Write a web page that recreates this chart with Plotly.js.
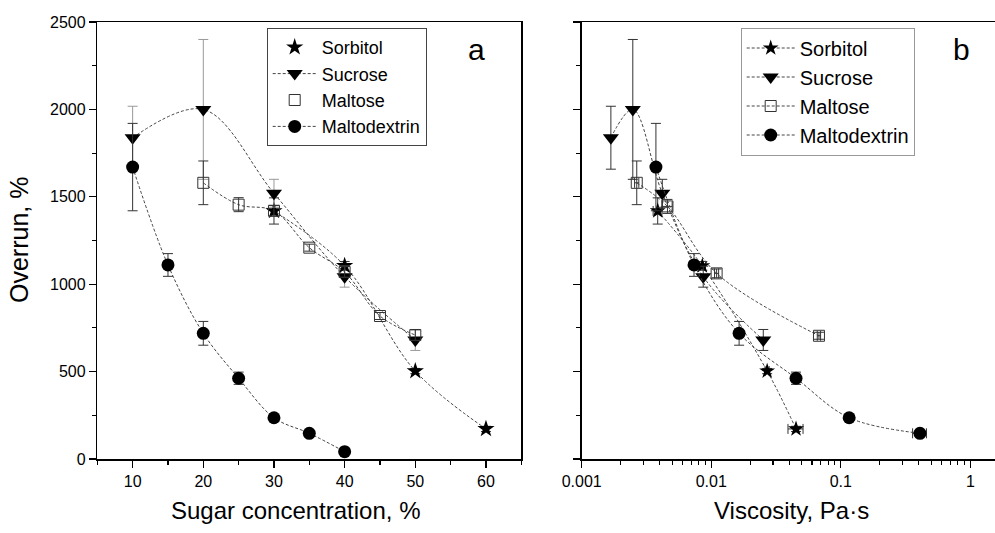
<!DOCTYPE html>
<html>
<head>
<meta charset="utf-8">
<script src="https://cdn.plot.ly/plotly-3.0.1.min.js"></script>
<style>html,body{margin:0;padding:0;background:#fff;}#chart{width:995px;height:533px;}</style>
</head>
<body>
<div id="chart"></div>
<script>
// ---- Panel a: overrun vs sugar concentration ----
const sorbitolConc = [30, 40, 50, 60];
const sorbitolOver = [1419, 1105, 503, 172];
const sorbitolErr = [75, 25, 15, 15];

const sucroseConc = [10, 20, 30, 40, 50];
const sucroseOver = [1838, 2000, 1520, 1043, 681];
const sucroseErr = [180, 400, 80, 60, 60];

const maltoseConc = [20, 25, 30, 35, 40, 45, 50];
const maltoseOver = [1580, 1455, 1420, 1209, 1070, 818, 709];
const maltoseErr = [125, 40, 30, 20, 30, 20, 30];

const maltodextrinConc = [10, 15, 20, 25, 30, 35, 40];
const maltodextrinOver = [1670, 1110, 719, 462, 236, 147, 42];
const maltodextrinErr = [250, 65, 68, 35, 15, 15, 10];

// ---- Panel b: overrun vs viscosity ----
const sorbitolVisc = [0.00386, 0.00853, 0.0270, 0.0451];
const sorbitolOverB = [1419, 1105, 503, 172];
const sorbitolErrB = [75, 25, 15, 15];
const sorbitolViscErr = [0.0003, 0.0005, 0.001, 0.006];

const sucroseVisc = [0.00168, 0.00248, 0.00419, 0.00867, 0.0252];
const sucroseOverB = [1838, 2000, 1520, 1043, 681];
const sucroseErrB = [180, 400, 80, 60, 60];

const maltoseVisc = [0.00266, 0.00459, 0.0110, 0.0678];
const maltoseOverB = [1580, 1445, 1062, 705];
const maltoseErrB = [125, 40, 25, 20];
const maltoseViscErr = [0.0001, 0.0004, 0.0004, 0.002];

const maltodextrinVisc = [0.00374, 0.00736, 0.0164, 0.0451, 0.116, 0.408];
const maltodextrinOverB = [1670, 1110, 719, 462, 236, 147];
const maltodextrinErrB = [250, 65, 68, 35, 15, 15];
const maltodextrinViscErr = [0, 0.0003, 0.0005, 0.003, 0.005, 0.05];

const xTicksA = [10, 20, 30, 40, 50, 60];
const xTicksB = [0.001, 0.01, 0.1, 1];
const xTickTextB = ['0.001', '0.01', '0.1', '1'];

const FONT = 'Arial, "Liberation Sans", sans-serif';
const lineStyle = {color: '#444', width: 1, dash: '3px,2px', shape: 'spline', smoothing: 1};
const eb = (arr, color) => ({type: 'data', array: arr, visible: true, color: color || '#333', thickness: 1, width: 5});

const mk = {
  sorbitol: {symbol: 'star', size: 13, color: '#000'},
  sucrose: {symbol: 'triangle-down', size: 14, color: '#000'},
  maltose: {symbol: 'square-open', size: 11, color: '#333', line: {width: 1, color: '#333'}},
  maltodextrin: {symbol: 'circle', size: 13, color: '#000'}
};

const traces = [
  // Panel a curves (no legend)
  {x: sorbitolConc, y: sorbitolOver, mode: 'lines', line: lineStyle, showlegend: false, hoverinfo: 'skip'},
  {x: maltoseConc, y: maltoseOver, mode: 'lines', line: lineStyle, showlegend: false, hoverinfo: 'skip'},
  // Panel a markers
  {x: sorbitolConc, y: sorbitolOver, name: 'Sorbitol', mode: 'markers', marker: mk.sorbitol, error_y: eb(sorbitolErr), legend: 'legend'},
  {x: sucroseConc, y: sucroseOver, name: 'Sucrose', mode: 'lines+markers', line: lineStyle, marker: mk.sucrose, error_y: eb(sucroseErr, '#999'), legend: 'legend'},
  {x: maltoseConc, y: maltoseOver, name: 'Maltose', mode: 'markers', marker: mk.maltose, error_y: eb(maltoseErr), legend: 'legend'},
  {x: maltodextrinConc, y: maltodextrinOver, name: 'Maltodextrin', mode: 'lines+markers', line: lineStyle, marker: mk.maltodextrin, error_y: eb(maltodextrinErr), legend: 'legend'},
  // Panel b
  {x: sorbitolVisc, y: sorbitolOverB, name: 'Sorbitol', xaxis: 'x2', yaxis: 'y2', mode: 'lines+markers', line: lineStyle, marker: Object.assign({}, mk.sorbitol, {size: 12}), error_y: eb(sorbitolErrB), error_x: eb(sorbitolViscErr), legend: 'legend2'},
  {x: sucroseVisc, y: sucroseOverB, name: 'Sucrose', xaxis: 'x2', yaxis: 'y2', mode: 'lines+markers', line: lineStyle, marker: mk.sucrose, error_y: eb(sucroseErrB), legend: 'legend2'},
  {x: maltoseVisc, y: maltoseOverB, name: 'Maltose', xaxis: 'x2', yaxis: 'y2', mode: 'lines+markers', line: lineStyle, marker: mk.maltose, error_y: eb(maltoseErrB), error_x: eb(maltoseViscErr), legend: 'legend2'},
  {x: maltodextrinVisc, y: maltodextrinOverB, name: 'Maltodextrin', xaxis: 'x2', yaxis: 'y2', mode: 'lines+markers', line: lineStyle, marker: mk.maltodextrin, error_y: eb(maltodextrinErrB), error_x: eb(maltodextrinViscErr), legend: 'legend2'}
];

const axisCommon = {
  showline: true, linecolor: '#000', linewidth: 1.5, showgrid: false, zeroline: false,
  ticks: 'outside', ticklen: 7, tickwidth: 1.2, tickcolor: '#000',
  tickfont: {family: FONT, size: 16, color: '#000'}
};
const yDomain = [74 / 533, 511 / 533];

const layout = {
  width: 995, height: 533,
  margin: {l: 0, r: 0, t: 0, b: 0},
  paper_bgcolor: '#fff', plot_bgcolor: '#fff',
  font: {family: FONT, color: '#000'},
  xaxis: Object.assign({}, axisCommon, {
    domain: [97.3 / 995, 521.3 / 995], range: [5, 65], tickmode: 'array', tickvals: xTicksA,
    mirror: true, anchor: 'y',
    minor: {ticks: 'outside', ticklen: 4, dtick: 5, tick0: 5, tickcolor: '#000'}
  }),
  yaxis: Object.assign({}, axisCommon, {
    domain: yDomain, range: [0, 2500], dtick: 500, tick0: 0, mirror: true, anchor: 'x',
    minor: {ticks: 'outside', ticklen: 4, dtick: 250, tickcolor: '#000'}
  }),
  xaxis2: Object.assign({}, axisCommon, {
    type: 'log', domain: [581.7 / 995, 1], range: [-3, 0.19], anchor: 'y2',
    tickmode: 'array', tickvals: xTicksB, ticktext: xTickTextB, mirror: true,
    minor: {ticks: 'outside', ticklen: 4, dtick: 'D1', tickcolor: '#000'}
  }),
  yaxis2: Object.assign({}, axisCommon, {
    domain: yDomain, range: [0, 2500], dtick: 500, tick0: 0, anchor: 'x2', mirror: false,
    showticklabels: false,
    minor: {ticks: 'outside', ticklen: 4, dtick: 250, tickcolor: '#000'}
  }),
  legend: {
    x: 266.7 / 995, y: 1 - 28 / 533, xanchor: 'left', yanchor: 'top',
    bgcolor: '#fff', bordercolor: '#444', borderwidth: 1,
    font: {family: FONT, size: 18, color: '#000'}, itemwidth: 44, tracegroupgap: 0
  },
  legend2: {
    x: 740.7 / 995, y: 1 - 27.5 / 533, xanchor: 'left', yanchor: 'top',
    bgcolor: '#fff', bordercolor: '#999', borderwidth: 1,
    font: {family: FONT, size: 20, color: '#000'}, itemwidth: 48, tracegroupgap: 0
  },
  annotations: [
    {text: 'a', xref: 'paper', yref: 'paper', x: 476.7 / 995, y: 1 - 50 / 533, xanchor: 'center', yanchor: 'middle', showarrow: false, font: {family: FONT, size: 30}},
    {text: 'b', xref: 'paper', yref: 'paper', x: 961 / 995, y: 1 - 50 / 533, xanchor: 'center', yanchor: 'middle', showarrow: false, font: {family: FONT, size: 30}},
    {text: 'Sugar concentration, %', xref: 'paper', yref: 'paper', x: 295.5 / 995, y: 1 - 511 / 533, xanchor: 'center', yanchor: 'middle', showarrow: false, font: {family: FONT, size: 24}},
    {text: 'Viscosity, Pa·s', xref: 'paper', yref: 'paper', x: 791 / 995, y: 1 - 511 / 533, xanchor: 'center', yanchor: 'middle', showarrow: false, font: {family: FONT, size: 24}},
    {text: 'Overrun, %', xref: 'paper', yref: 'paper', x: 19.5 / 995, y: 1 - 240.5 / 533, xanchor: 'center', yanchor: 'middle', textangle: -90, showarrow: false, font: {family: FONT, size: 25}}
  ]
};

Plotly.newPlot('chart', traces, layout, {displayModeBar: false, staticPlot: true});
</script>
</body>
</html>
